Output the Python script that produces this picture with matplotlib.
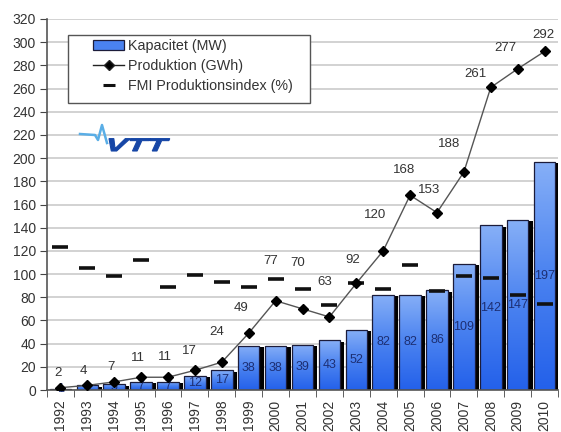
#!/usr/bin/env python3
"""Vindkraft i Finland 1992-2010: kapacitet, produktion och FMI produktionsindex."""

import matplotlib

matplotlib.use("Agg")
import matplotlib.pyplot as plt
import matplotlib.patheffects as pe
import numpy as np
from matplotlib.colors import LinearSegmentedColormap
from matplotlib.font_manager import FontProperties
from matplotlib.lines import Line2D
from matplotlib.patches import Patch, PathPatch, Rectangle
from matplotlib.textpath import TextPath
from matplotlib.transforms import Affine2D, IdentityTransform

plt.rcParams["font.family"] = ["Liberation Sans", "DejaVu Sans"]

# --------------------------------------------------------------------------- #
# data
# --------------------------------------------------------------------------- #
years = [str(y) for y in range(1992, 2011)]
kapacitet = [1, 4, 5, 7, 7, 12, 17, 38, 38, 39, 43, 52, 82, 82, 86, 109, 142, 147, 197]
produktion = [2, 4, 7, 11, 11, 17, 24, 49, 77, 70, 63, 92, 120, 168, 153, 188, 261, 277, 292]
fmi_index = [123, 105, 98, 112, 89, 99, 93, 89, 96, 87, 73, 92, 87, 108, 85, 98, 97, 82, 74]

# label offsets (pixels) for the production values
prod_dx = [-2, -4, -3, -3, -3, -6, -5, -8, -5, -5, -5, -4, -8, -6, -8, -15, -15, -12, -1]
prod_dy = [15, 14, 15, 19, 20, 19, 30, 25, 40, 46, 35, 23, 36, 25, 23, 28, 13, 21, 16]

# --------------------------------------------------------------------------- #
# colours
# --------------------------------------------------------------------------- #
COLOR_GRID = "#cfcfcf"
COLOR_TEXT = "#333333"
COLOR_EDGE = "#1c1c3a"
COLOR_BARLABEL = "#1d2f73"
bar_cmap = LinearSegmentedColormap.from_list("bar", ["#2461ea", "#4a82f0", "#86aff7"])

W, H = 561, 432
fig = plt.figure(figsize=(W / 100, H / 100), dpi=100, facecolor="white")
ax = fig.add_axes([47 / W, 1 - 390 / H, 511 / W, 371 / H])

x = np.arange(len(years))
bar_w = 0.8

# bars with a black drop shadow and a vertical gradient fill
bars = ax.bar(
    x, kapacitet, width=bar_w, color="#4a82f0", edgecolor="none", zorder=2,
    path_effects=[pe.SimplePatchShadow(offset=(3, -1), shadow_rgbFace="black", alpha=1.0), pe.Normal()],
)
grad = np.linspace(0, 1, 64).reshape(-1, 1)
for rect in bars:
    x0, w, h = rect.get_x(), rect.get_width(), rect.get_height()
    im = ax.imshow(grad, extent=[x0, x0 + w, 0, h], origin="lower", aspect="auto",
                   cmap=bar_cmap, zorder=2.1, interpolation="bilinear")
    im.set_clip_path(rect)
    ax.add_patch(Rectangle((x0, 0), w, h, fill=False, edgecolor=COLOR_EDGE, lw=0.9, zorder=2.2))
    ax.text(x0 + w / 2, h / 2, f"{h:g}", ha="center", va="center", fontsize=9,
            color=COLOR_BARLABEL, zorder=2.5)

# FMI production index as short dashes
ax.plot(x, fmi_index, linestyle="none", marker="_", ms=12, mew=2.6, color="#111111", zorder=3)

# production line
ax.plot(x, produktion, color="#555555", lw=1.0, marker="D", ms=5, mfc="black", mec="black", zorder=4)
for i, v in enumerate(produktion):
    ax.annotate(f"{v}", (x[i], v), xytext=(prod_dx[i], prod_dy[i]), textcoords="offset pixels",
                ha="center", va="center", fontsize=9.5, color=COLOR_TEXT, zorder=5)

# axes
ax.set_xlim(-0.5, len(years) - 0.5)
ax.set_ylim(0, 320)
ax.set_yticks(range(0, 321, 20))
ax.set_xticks(x)
ax.set_xticklabels(years, rotation=90, fontsize=10, color=COLOR_TEXT)
ax.set_xticks(np.arange(-0.5, len(years), 1), minor=True)
ax.tick_params(axis="x", which="major", length=0, pad=7)
ax.tick_params(axis="x", which="minor", length=5, color="#444444")
ax.tick_params(axis="y", length=5, color="#444444", labelsize=10, labelcolor=COLOR_TEXT, pad=3)
ax.yaxis.grid(True, color=COLOR_GRID, lw=1.3, zorder=0)
ax.set_axisbelow(True)
for side in ("top", "right"):
    ax.spines[side].set_visible(False)
for side in ("left", "bottom"):
    ax.spines[side].set_color("#555555")
    ax.spines[side].set_linewidth(1.2)

# legend: frame drawn separately so the entries can sit further right
fig.add_artist(Rectangle((68 / W, 1 - 103 / H), 242 / W, 68 / H, transform=fig.transFigure,
                         facecolor="white", edgecolor="#555555", lw=1.0, zorder=4))
handles = [
    Patch(facecolor="#4a82f0", edgecolor=COLOR_EDGE, lw=0.9),
    Line2D([], [], color="#222222", lw=1.0, marker="D", ms=5, mfc="black"),
    Line2D([], [], linestyle="none", marker="_", ms=9, mew=2.2, color="#111111"),
]
labels = ["Kapacitet (MW)", "Produktion (GWh)", "FMI Produktionsindex (%)"]
leg = fig.legend(
    handles, labels, loc="upper left",
    bbox_to_anchor=(90 / W, 1 - 36 / H), bbox_transform=fig.transFigure,
    borderaxespad=0, fontsize=10.3, frameon=False, handlelength=2.2,
    handletextpad=0.25, labelspacing=0.42, borderpad=0.2, labelcolor=COLOR_TEXT,
)
leg.set_zorder(5)

# VTT logo (positions in pixels from the top-left corner)
logo_font = FontProperties(family="Liberation Sans", weight="bold", style="italic")
tp = TextPath((0, 0), "VTT", size=18, prop=logo_font)
tr = Affine2D().scale(1.8, 1.0).skew_deg(6, 0).translate(105, H - 151)
fig.add_artist(PathPatch(tr.transform_path(tp), facecolor="#1646a6", edgecolor="#1646a6", lw=0.8,
                         transform=IdentityTransform(), zorder=3))
wave_x = np.array([80, 95, 98, 102, 107])
wave_y = H - np.array([134, 135, 140, 125, 143])
fig.add_artist(Line2D(wave_x, wave_y, color="#5aaee6", lw=1.8, transform=IdentityTransform(), zorder=3))

fig.savefig("out.png", dpi=100, facecolor="white")
